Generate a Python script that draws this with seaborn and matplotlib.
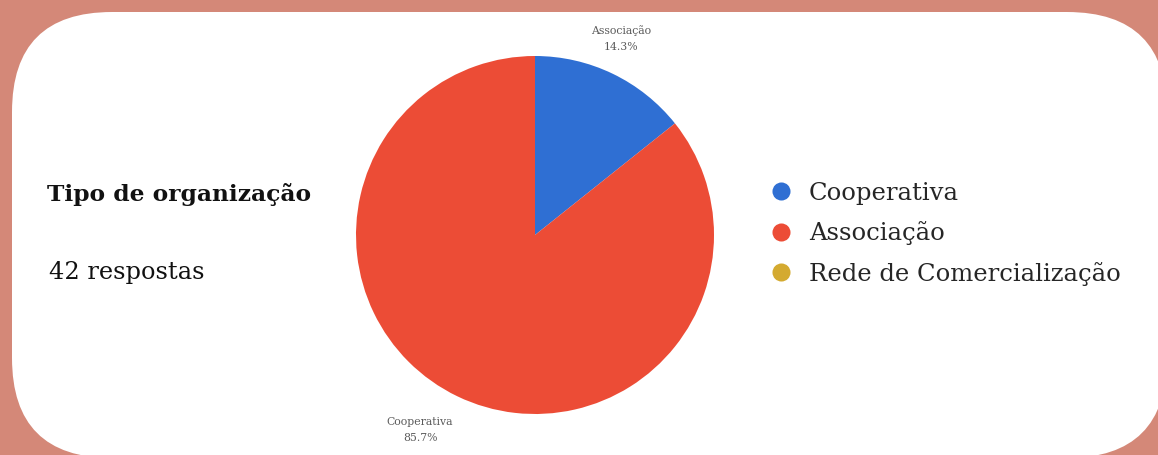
import matplotlib
matplotlib.use("Agg")
import matplotlib.pyplot as plt
from matplotlib.patches import FancyBboxPatch
from matplotlib.lines import Line2D
import numpy as np
import seaborn as sns

# ---- data ----
title = "Tipo de organização"
subtitle = "42 respostas"
legend_labels = ["Cooperativa", "Associação", "Rede de Comercialização"]
legend_colors = ["#2f6fd3", "#ec4c36", "#d4aa30"]
slice_values = [6, 36]
slice_colors = ["#2f6fd3", "#ec4c36"]
slice_names = ["Associação", "Cooperativa"]
slice_pcts = ["14.3%", "85.7%"]

sns.set_theme(style="white")
plt.rcParams["font.family"] = ["DejaVu Serif", "DejaVu Sans"]

W, H = 1158, 455
fig = plt.figure(figsize=(W / 100, H / 100), dpi=100)
fig.patch.set_facecolor("#d48878")

# background card in pixel coordinates
bg = fig.add_axes([0, 0, 1, 1])
bg.set_xlim(0, W)
bg.set_ylim(H, 0)
bg.axis("off")
bg.add_patch(FancyBboxPatch((12, 12), 1155, 446,
                            boxstyle="round,pad=0,rounding_size=100",
                            facecolor="white", edgecolor="none"))

bg.text(47, 195, title, fontsize=16.8, fontweight="bold", color="#111111",
        va="center", ha="left")
bg.text(49, 272, subtitle, fontsize=17.3, color="#111111", va="center", ha="left")

# pie
cx, cy, r = 535, 235, 179
ax = fig.add_axes([(cx - r) / W, (H - cy - r) / H, 2 * r / W, 2 * r / H])
wedges, _ = ax.pie(slice_values, colors=slice_colors, startangle=90,
                   counterclock=False, radius=1,
                   wedgeprops=dict(linewidth=0))
ax.set_xlim(-1, 1)
ax.set_ylim(-1, 1)
ax.set_aspect("equal")
ax.axis("off")
ax.set_clip_on(False)

label_dist = [1.20, 1.265]
label_rot = [2.0, -4.8]
for w, name, pct, d, rot in zip(wedges, slice_names, slice_pcts, label_dist, label_rot):
    ang = np.deg2rad((w.theta1 + w.theta2) / 2 + rot)
    ax.text(d * np.cos(ang), d * np.sin(ang), f"{name}\n{pct}",
            fontsize=7.8, color="#5a5a5a", ha="center", va="center",
            linespacing=1.75, clip_on=False)

handles = [Line2D([0], [0], marker="o", linestyle="none", markersize=13,
                  markerfacecolor=c, markeredgecolor="none") for c in legend_colors]
fig.legend(handles, legend_labels, loc="upper left",
           bbox_to_anchor=(760 / W, 1 - 172 / H), frameon=False,
           fontsize=17.5, labelspacing=0.68, handletextpad=0.72,
           handlelength=0.9, borderaxespad=0)

fig.savefig("out.png", dpi=100, facecolor=fig.get_facecolor())
